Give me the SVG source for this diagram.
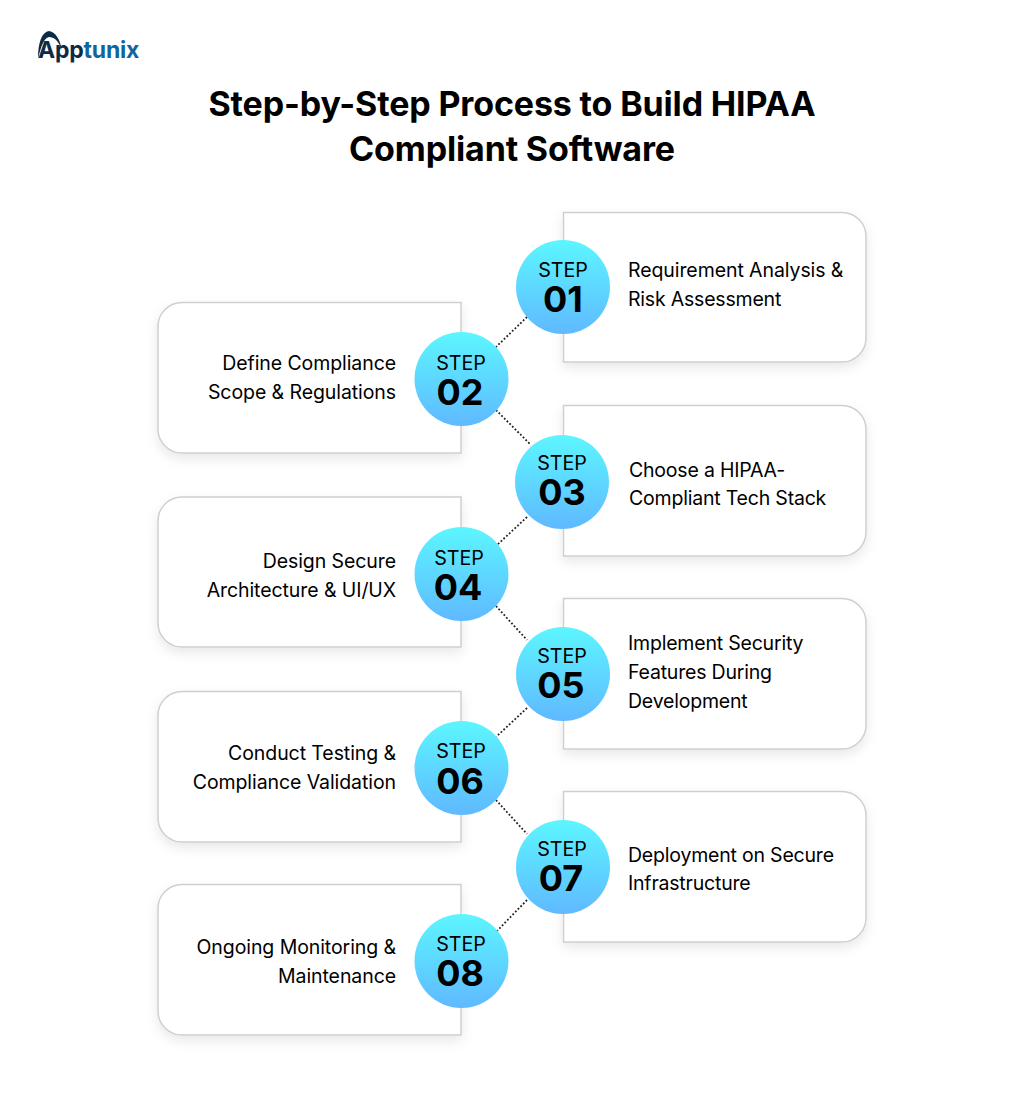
<svg xmlns="http://www.w3.org/2000/svg" width="1024" height="1105" viewBox="0 0 1024 1105">
<defs>
<linearGradient id="g" x1="0" y1="0" x2="0" y2="1"><stop offset="0" stop-color="#5cf6ff"/><stop offset="1" stop-color="#60b9ff"/></linearGradient>
<filter id="s" x="-10%" y="-10%" width="120%" height="125%"><feDropShadow dx="0" dy="5" stdDeviation="6" flood-color="#000" flood-opacity="0.09"/></filter>
</defs>
<style>
text{font-family:Inter,"Liberation Sans",sans-serif;fill:#000}
.t{font-size:34px;font-weight:700;text-anchor:middle;letter-spacing:-.15px}
.l{font-size:19.5px;font-weight:400;letter-spacing:-.08px}
.w{letter-spacing:-.2px}
.r{text-anchor:end}
.a{font-size:19.7px;text-anchor:middle}
.n{font-size:36px;font-weight:700;text-anchor:middle}
.b{fill:#fff;stroke:#cfcfcf;stroke-width:1.5;filter:url(#s)}
.c{fill:url(#g)}
.d{stroke:#222;stroke-width:1.8;stroke-dasharray:1.8 2;fill:none}
</style>
<rect width="1024" height="1105" fill="#fff"/>
<g id="logo">
<path d="M38 59C38 42 42 32 49 31C56 32 60 40 62 50C58 40 54 37 49 37C44 38 41 46 38 59Z" fill="#0d2b45"/>
<text x="38" y="58" style="font-size:23px;font-weight:700;fill:#0d2b45;letter-spacing:-.2px">App<tspan style="fill:#11659f">tunix</tspan></text>
</g>
<text class="t" x="512" y="116">Step-by-Step Process to Build HIPAA</text>
<text class="t" x="512" y="161">Compliant Software</text>
<g id="connectors">
<path class="d" d="M527 317L496 347"/>
<path class="d" d="M496 410L531 445"/>
<path class="d" d="M527 517L496 546"/>
<path class="d" d="M496 606L527 640"/>
<path class="d" d="M527 708L496 737"/>
<path class="d" d="M496 800L527 834"/>
<path class="d" d="M527 900L496 932"/>
</g>
<g id="step01"><path class="b" d="M563.500 212.500H842a24 24 0 0 1 24 24V338a24 24 0 0 1-24 24H563.500Z"/><circle class="c" cx="563" cy="287" r="47"/><text class="a" x="563" y="277">STEP</text><text class="n" x="563" y="312">01</text><text class="l" x="628" y="277">Requirement Analysis &amp;</text><text class="l w" x="628" y="306">Risk Assessment</text></g>
<g id="step02"><path class="b" d="M461 302.500H182a24 24 0 0 0-24 24V429a24 24 0 0 0 24 24H461Z"/><circle class="c" cx="461.500" cy="379" r="47"/><text class="a" x="461" y="370">STEP</text><text class="n" x="460" y="405">02</text><text class="l r" x="396" y="370">Define Compliance</text><text class="l r" x="396" y="399">Scope &amp; Regulations</text></g>
<g id="step03"><path class="b" d="M563.500 405.500H842a24 24 0 0 1 24 24V532a24 24 0 0 1-24 24H563.500Z"/><circle class="c" cx="562" cy="482" r="47"/><text class="a" x="562" y="470">STEP</text><text class="n" x="562" y="505">03</text><text class="l w" x="629" y="477">Choose a HIPAA-</text><text class="l w" x="629" y="505">Compliant Tech Stack</text></g>
<g id="step04"><path class="b" d="M461 497H182a24 24 0 0 0-24 24V623a24 24 0 0 0 24 24H461Z"/><circle class="c" cx="461.500" cy="574" r="47"/><text class="a" x="459" y="565">STEP</text><text class="n" x="458" y="600">04</text><text class="l r" x="396" y="568">Design Secure</text><text class="l r" x="396" y="597">Architecture &amp; UI/UX</text></g>
<g id="step05"><path class="b" d="M563.500 598.500H842a24 24 0 0 1 24 24V725a24 24 0 0 1-24 24H563.500Z"/><circle class="c" cx="563" cy="674" r="47"/><text class="a" x="562" y="663">STEP</text><text class="n" x="561" y="698">05</text><text class="l w" x="628" y="650">Implement Security</text><text class="l w" x="628" y="679">Features During</text><text class="l w" x="628" y="708">Development</text></g>
<g id="step06"><path class="b" d="M461 691.500H182a24 24 0 0 0-24 24V818a24 24 0 0 0 24 24H461Z"/><circle class="c" cx="461.500" cy="768" r="47"/><text class="a" x="461" y="758">STEP</text><text class="n" x="460" y="794">06</text><text class="l r" x="396" y="760">Conduct Testing &amp;</text><text class="l r" x="396" y="789">Compliance Validation</text></g>
<g id="step07"><path class="b" d="M563.500 791.500H842a24 24 0 0 1 24 24V918a24 24 0 0 1-24 24H563.500Z"/><circle class="c" cx="563" cy="867" r="47"/><text class="a" x="562" y="856">STEP</text><text class="n" x="561" y="891">07</text><text class="l w" x="628" y="862">Deployment on Secure</text><text class="l w" x="628" y="890">Infrastructure</text></g>
<g id="step08"><path class="b" d="M461 884.500H182a24 24 0 0 0-24 24V1011a24 24 0 0 0 24 24H461Z"/><circle class="c" cx="461.500" cy="961" r="47"/><text class="a" x="461" y="951">STEP</text><text class="n" x="460" y="986">08</text><text class="l r" x="396" y="954">Ongoing Monitoring &amp;</text><text class="l r" x="396" y="983">Maintenance</text></g>
</svg>
